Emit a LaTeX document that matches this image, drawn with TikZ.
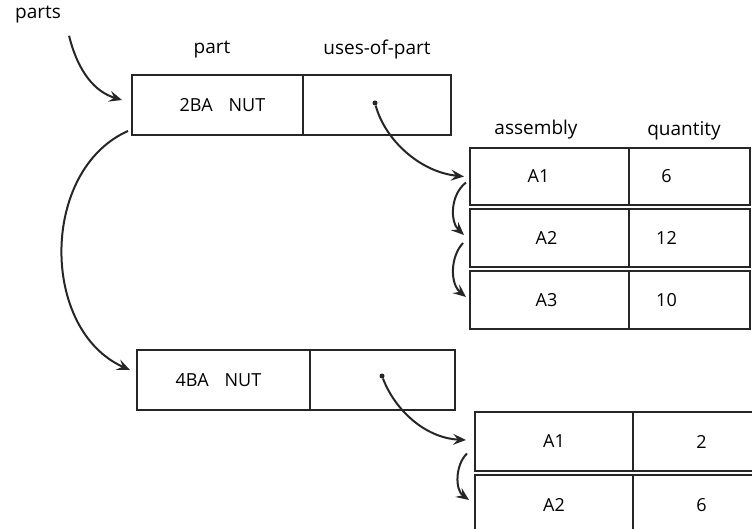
\documentclass[tikz,border=0pt]{standalone}
\usepackage{fontspec}
\setmainfont{Open Sans}
\usetikzlibrary{arrows.meta}
\begin{document}
\begin{tikzpicture}[x=1pt,y=-1pt,
  ink/.style={draw=black!85,line width=2.2pt},
  cell/.style={ink,rectangle,inner sep=0pt,outer sep=0pt,font=\fontsize{18}{21}\selectfont},
  lbl/.style={font=\fontsize{19}{22}\selectfont,inner sep=0pt},
  arr/.style={ink,line width=2pt,-{Stealth[length=13pt,width=11pt,inset=5pt]}},
  ptr/.style={circle,fill=black!85,inner sep=0pt,minimum size=5pt}]
\useasboundingbox (0,0) rectangle (752,529);
\clip (0,0) rectangle (752,529);
% labels
\node[lbl] (parts) at (38,15) {parts};
\node[lbl] (lpart) at (212,50) {part};
\node[lbl] (luses) at (377,50) {uses-of-part};
\node[lbl] (lasm) at (536,130) {assembly};
\node[lbl] (lqty) at (684,131) {quantity};
% part record 1
\node[cell,minimum width=171pt,minimum height=60pt] (b1p) at (217.5,105) {\rule{10pt}{0pt}2BA\hspace{16pt}NUT};
\node[cell,minimum width=148pt,minimum height=60pt] (b1u) at (377,105) {};
\node[ptr] (d1) at (375,103) {};
% table 1
\node[cell,minimum width=159pt,minimum height=57pt] (t1a1) at (549.5,176.5) {A1\rule{22pt}{0pt}};
\node[cell,minimum width=121pt,minimum height=57pt] (t1q1) at (689.5,176.5) {6\rule{46pt}{0pt}};
\node[cell,minimum width=159pt,minimum height=58pt] (t1a2) at (549.5,238) {A2\rule{6pt}{0pt}};
\node[cell,minimum width=121pt,minimum height=58pt] (t1q2) at (689.5,238) {12\rule{46pt}{0pt}};
\node[cell,minimum width=159pt,minimum height=58pt] (t1a3) at (549.5,300) {A3\rule{6pt}{0pt}};
\node[cell,minimum width=121pt,minimum height=58pt] (t1q3) at (689.5,300) {10\rule{46pt}{0pt}};
% part record 2
\node[cell,minimum width=173pt,minimum height=60pt] (b2p) at (223.5,380) {4BA\hspace{16pt}NUT\rule{10pt}{0pt}};
\node[cell,minimum width=145pt,minimum height=60pt] (b2u) at (382.5,380) {};
\node[ptr] (d2) at (382,376) {};
% table 2
\node[cell,minimum width=158pt,minimum height=59pt] (t2a1) at (554,441.5) {A1};
\node[cell,minimum width=137pt,minimum height=59pt] (t2q1) at (701.5,441.5) {2};
\node[cell,minimum width=158pt,minimum height=60pt] (t2a2) at (554,505) {A2};
\node[cell,minimum width=137pt,minimum height=60pt] (t2q2) at (701.5,505) {6};
% connectors
\draw[arr] ([xshift=8pt,yshift=-12pt]parts.south east) .. controls (78,72) and (95,92) .. ([xshift=-10pt,yshift=5pt]b1p.west);
\draw[arr] ([xshift=-4pt,yshift=4pt]b1p.south west) .. controls (40,170) and (40,330) .. ([xshift=-7pt,yshift=10pt]b2p.west);
\draw[arr] (d1) .. controls (385,140) and (420,172) .. ([xshift=-6pt]t1a1.west);
\draw[arr] ([xshift=-4pt,yshift=-6pt]t1a1.west) .. controls (450,195) and (450,222) .. ([xshift=-6pt,yshift=3pt]t1a2.west);
\draw[arr] ([xshift=-7pt,yshift=-5pt]t1a2.west) .. controls (450,257) and (450,284) .. ([xshift=-4pt,yshift=3pt]t1a3.west);
\draw[arr] (d2) .. controls (395,410) and (425,438) .. ([xshift=-9pt,yshift=1.5pt]t2a1.west);
\draw[arr] ([xshift=-8pt,yshift=-12pt]t2a1.west) .. controls (455,465) and (455,490) .. ([xshift=-6pt,yshift=5pt]t2a2.west);
\end{tikzpicture}
\end{document}
